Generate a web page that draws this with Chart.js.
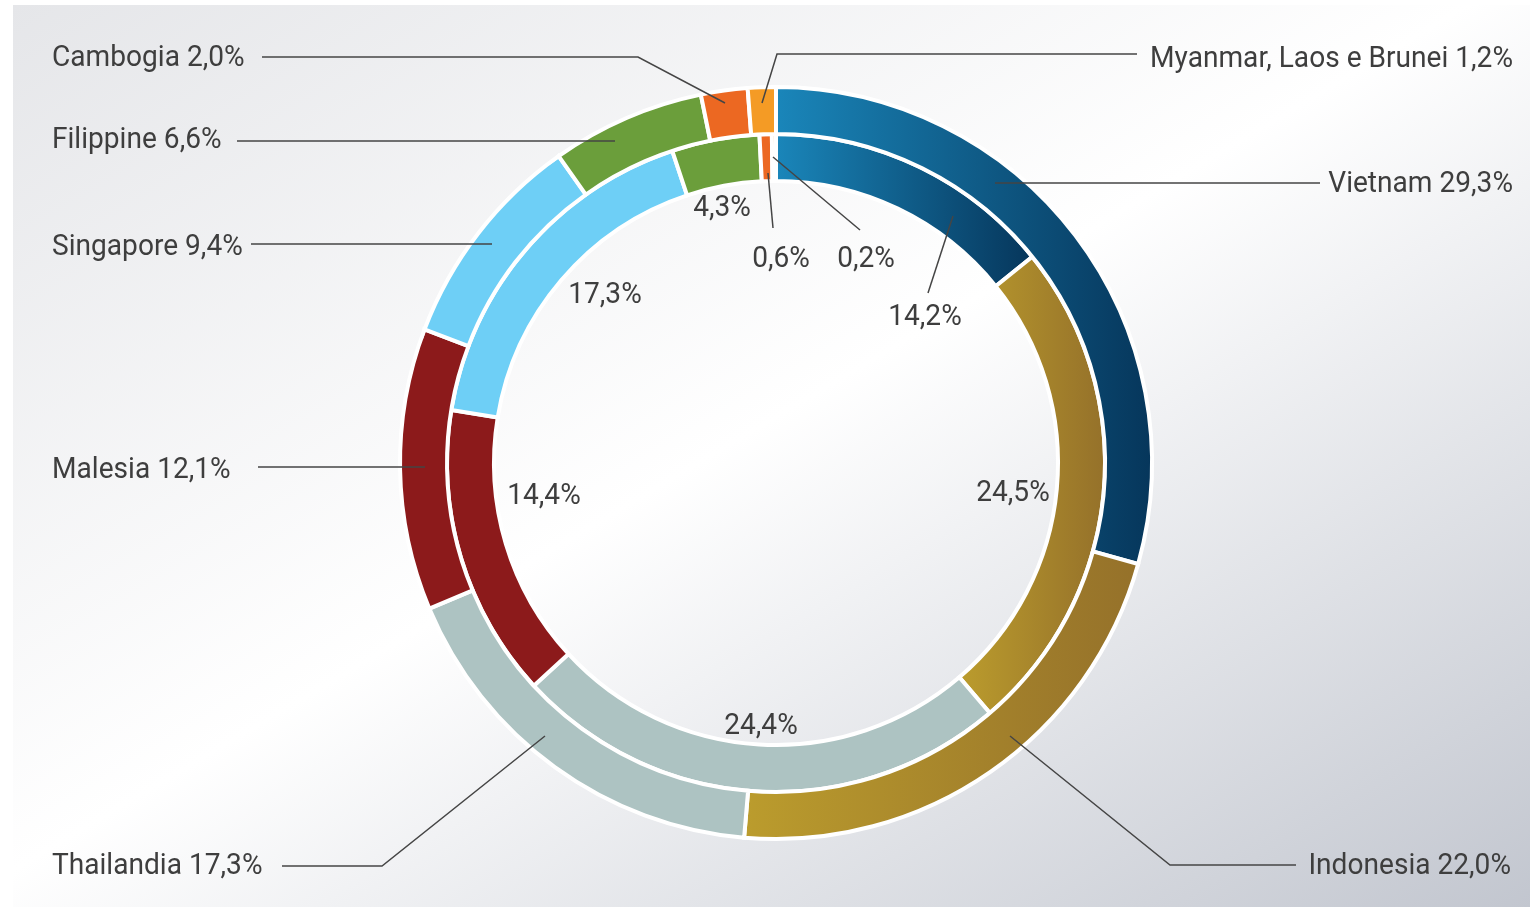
<!DOCTYPE html>
<html>
<head>
<meta charset="utf-8">
<script src="https://cdn.jsdelivr.net/npm/chart.js@4.4.0/dist/chart.umd.min.js"></script>
<style>
  html, body { margin: 0; padding: 0; width: 1530px; height: 909px; overflow: hidden; background: #ffffff; }
  #panel { position: absolute; left: 13px; top: 5px; width: 1517px; height: 902px;
           background: linear-gradient(to bottom right, #e5e6e9 0%, #ffffff 48%, #c2c6cf 100%); }
  #wrap { position: absolute; left: 0; top: 0; width: 1530px; height: 909px; }
</style>
</head>
<body>
<div id="panel"></div>
<div id="wrap"><canvas id="chart"></canvas></div>
<script>
// ---------- DATA ----------
const categories = ['Vietnam', 'Indonesia', 'Thailandia', 'Malesia', 'Singapore', 'Filippine', 'Cambogia', 'Myanmar, Laos e Brunei'];
const outerValues = [29.3, 22.0, 17.3, 12.1, 9.4, 6.6, 2.0, 1.2];
const innerValues = [14.2, 24.5, 24.4, 14.4, 17.3, 4.3, 0.6, 0.2];

// ---------- STYLE ----------
const sliceColors = [
  ['#1a86ba', '#06365b'],   // Vietnam (gradient)
  ['#bb9c2d', '#95712a'],   // Indonesia (gradient)
  ['#adc3c2'],              // Thailandia
  ['#8c1a1b'],              // Malesia
  ['#6ecff6'],              // Singapore
  ['#6b9e3b'],              // Filippine
  ['#ec6822'],              // Cambogia
  ['#f49b25']               // Myanmar, Laos e Brunei
];

// Label layout: [x, baseline y, align]
const outerLabelPos = [
  [1513, 192, 'right'], [1511, 874, 'right'], [52, 874, 'left'], [52, 478, 'left'],
  [52, 255, 'left'], [52, 148, 'left'], [52, 66, 'left'], [1513, 67, 'right']
];
const outerLeaders = [
  [[1320, 183], [995, 183]],
  [[1296, 865], [1170, 865], [1010, 736]],
  [[282, 866], [382, 866], [545, 736]],
  [[258, 467], [425, 467]],
  [[251, 244], [492, 244]],
  [[237, 141], [615, 141]],
  [[262, 57], [638, 57], [725, 103]],
  [[1137, 54], [777, 54], [762, 103]]
];
const innerLabelPos = [
  [925, 325], [1013, 501], [761, 734], [544, 504],
  [605, 303], [722, 216], [781, 267], [866, 267]
];
const innerLeaders = [
  [[928, 293], [953, 216]],
  null, null, null, null, null,
  [[773, 228], [768, 173]],
  [[860, 230], [773, 157]]
];

function fmt(v) { return v.toFixed(1).replace('.', ',') + '%'; }

function sliceFill(ctx) {
  const cols = sliceColors[ctx.dataIndex];
  if (cols.length === 1) return cols[0];
  const chart = ctx.chart;
  const ca = chart.chartArea;
  if (!ca) return cols[0];
  const ctrl = chart.getDatasetMeta(ctx.datasetIndex).controller;
  const ro = ctrl.outerRadius || 376, ri = ctrl.innerRadius || 282;
  const cx = (ca.left + ca.right) / 2;
  const data = chart.data.datasets[ctx.datasetIndex].data;
  const total = data.reduce((a, b) => a + b, 0);
  let before = 0;
  for (let i = 0; i < ctx.dataIndex; i++) before += data[i];
  const a0 = -Math.PI / 2 + before / total * 2 * Math.PI;
  const a1 = a0 + data[ctx.dataIndex] / total * 2 * Math.PI;
  let minX = Infinity, maxX = -Infinity;
  for (let k = 0; k <= 60; k++) {
    const a = a0 + (a1 - a0) * k / 60;
    for (const r of [ro, ri]) {
      const x = cx + r * Math.cos(a);
      if (x < minX) minX = x;
      if (x > maxX) maxX = x;
    }
  }
  const g = chart.ctx.createLinearGradient(minX, 0, maxX, 0);
  g.addColorStop(0, cols[0]);
  g.addColorStop(1, cols[1]);
  return g;
}

const labelPlugin = {
  id: 'labels',
  afterDraw(chart) {
    const c = chart.ctx;
    c.save();
    c.strokeStyle = '#454545';
    c.lineWidth = 1.5;
    const drawLine = pts => {
      c.beginPath();
      c.moveTo(pts[0][0], pts[0][1]);
      for (let i = 1; i < pts.length; i++) c.lineTo(pts[i][0], pts[i][1]);
      c.stroke();
    };
    outerLeaders.forEach(p => p && drawLine(p));
    innerLeaders.forEach(p => p && drawLine(p));

    c.font = '30px Roboto';
    c.fillStyle = '#3e3e3e';
    c.textBaseline = 'alphabetic';
    const ref = categories[7] + ' ' + fmt(outerValues[7]);
    const sx = 363 / c.measureText(ref).width;
    const put = (txt, x, y, align) => {
      c.save();
      c.translate(x, y);
      c.scale(sx, 1);
      c.textAlign = align;
      c.fillText(txt, 0, 0);
      c.restore();
    };
    categories.forEach((name, i) => {
      const p = outerLabelPos[i];
      put(name + ' ' + fmt(outerValues[i]), p[0], p[1], p[2]);
      const q = innerLabelPos[i];
      put(fmt(innerValues[i]), q[0], q[1], 'center');
    });
    c.restore();
  }
};

new Chart(document.getElementById('chart'), {
  type: 'doughnut',
  data: {
    labels: categories,
    datasets: [
      { data: outerValues, backgroundColor: sliceFill, borderColor: '#ffffff', borderWidth: 4, borderJoinStyle: 'miter', hoverOffset: 0 },
      { data: innerValues, backgroundColor: sliceFill, borderColor: '#ffffff', borderWidth: 4, borderJoinStyle: 'miter', hoverOffset: 0 }
    ]
  },
  options: {
    responsive: true,
    maintainAspectRatio: false,
    animation: false,
    radius: 376,
    cutout: '75%',
    layout: { padding: { left: 322, right: 300, top: 67, bottom: 50 } },
    plugins: { legend: { display: false }, tooltip: { enabled: false } },
    events: []
  },
  plugins: [labelPlugin]
});
</script>
</body>
</html>
